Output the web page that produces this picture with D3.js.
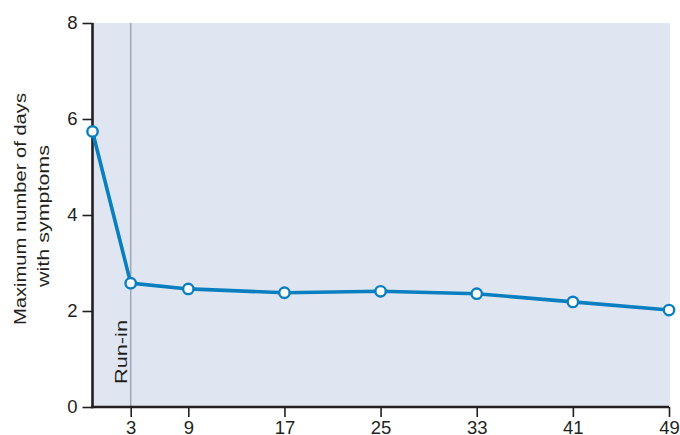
<!DOCTYPE html>
<html>
<head>
<meta charset="utf-8">
<script src="https://cdn.jsdelivr.net/npm/d3@7"></script>
<style>
  html, body { margin: 0; padding: 0; background: #ffffff; }
  svg { display: block; }
  text { font-family: "Liberation Sans", Arial, Helvetica, sans-serif; fill: #231f20; }
</style>
</head>
<body>
<svg id="chart" width="680" height="435"></svg>
<script>
// ---- data ----
const weeks = [0, 3, 9, 17, 25, 33, 41, 49];
const maxDays = [5.74, 2.58, 2.46, 2.38, 2.41, 2.36, 2.19, 2.02];
const xTickValues = [3, 9, 17, 25, 33, 41, 49];
const yTickValues = [0, 2, 4, 6, 8];
const runInWeek = 3;
const yTitleLines = ["Maximum number of days", "with symptoms"];
const runInLabel = "Run-in";

// ---- layout ----
const svg = d3.select("#chart");
const pLeft = 92.5, pRight = 669, pTop = 23, pBottom = 407;

// piecewise scale: run-in section is drawn compressed relative to follow-up
const x = d3.scaleLinear()
  .domain([0, 3, 9, 49])
  .range([pLeft, 130.7, 188.3, pRight]);
const y = d3.scaleLinear().domain([0, 8]).range([pBottom, pTop]);

const ink = "#231f20";
const blue = "#0a7fc0";

// plot background
svg.append("rect")
  .attr("x", pLeft).attr("y", pTop)
  .attr("width", pRight + 1 - pLeft).attr("height", pBottom - pTop)
  .attr("fill", "#dfe6f2");

// run-in reference line
svg.append("line")
  .attr("x1", x(runInWeek)).attr("x2", x(runInWeek))
  .attr("y1", y(8)).attr("y2", y(0))
  .attr("stroke", "#a2a7ad").attr("stroke-width", 1.5);

svg.append("text")
  .attr("transform", `translate(${x(runInWeek) - 3.5},384) rotate(-90)`)
  .attr("text-anchor", "start")
  .attr("font-size", 16.5)
  .attr("textLength", 64)
  .attr("lengthAdjust", "spacingAndGlyphs")
  .text(runInLabel);

// axes
const yAxis = d3.axisLeft(y).tickValues(yTickValues).tickSize(10).tickPadding(5).tickSizeOuter(0);
const xAxis = d3.axisBottom(x).tickValues(xTickValues).tickSize(10).tickPadding(4).tickSizeOuter(0);

const gy = svg.append("g").attr("transform", `translate(${pLeft},0)`).call(yAxis);
const gx = svg.append("g").attr("transform", `translate(0,${pBottom})`).call(xAxis);

[gx, gy].forEach(g => {
  g.select(".domain").attr("stroke", ink).attr("stroke-width", 2.6);
  g.selectAll(".tick line").attr("stroke", ink).attr("stroke-width", 1.6);
  g.selectAll(".tick text")
    .attr("font-family", '"Liberation Sans", Arial, sans-serif')
    .attr("font-size", 18.5)
    .attr("fill", ink);
});
gy.select(".domain").attr("d", `M0,${pTop}V${pBottom + 1.3}`);
gx.select(".domain").attr("d", `M${pLeft - 1.3},0H${pRight}`);

// y-axis title (two lines)
const titleBaselines = [25.5, 49];
const titleLengths = [232, 142];
const titleCenters = [209, 216];
yTitleLines.forEach((t, i) => {
  svg.append("text")
    .attr("transform", `translate(${titleBaselines[i]},${titleCenters[i]}) rotate(-90)`)
    .attr("text-anchor", "middle")
    .attr("font-size", 16.5)
    .attr("textLength", titleLengths[i])
    .attr("lengthAdjust", "spacingAndGlyphs")
    .text(t);
});

// series
const pts = weeks.map((w, i) => ({ w, v: maxDays[i] }));
svg.append("path")
  .datum(pts)
  .attr("fill", "none")
  .attr("stroke", blue)
  .attr("stroke-width", 3.6)
  .attr("stroke-linejoin", "round")
  .attr("d", d3.line().x(d => x(d.w)).y(d => y(d.v)));

svg.selectAll("circle.pt")
  .data(pts)
  .join("circle")
  .attr("class", "pt")
  .attr("cx", d => x(d.w))
  .attr("cy", d => y(d.v))
  .attr("r", 5.2)
  .attr("fill", "#ffffff")
  .attr("stroke", blue)
  .attr("stroke-width", 2.4);
</script>
</body>
</html>
